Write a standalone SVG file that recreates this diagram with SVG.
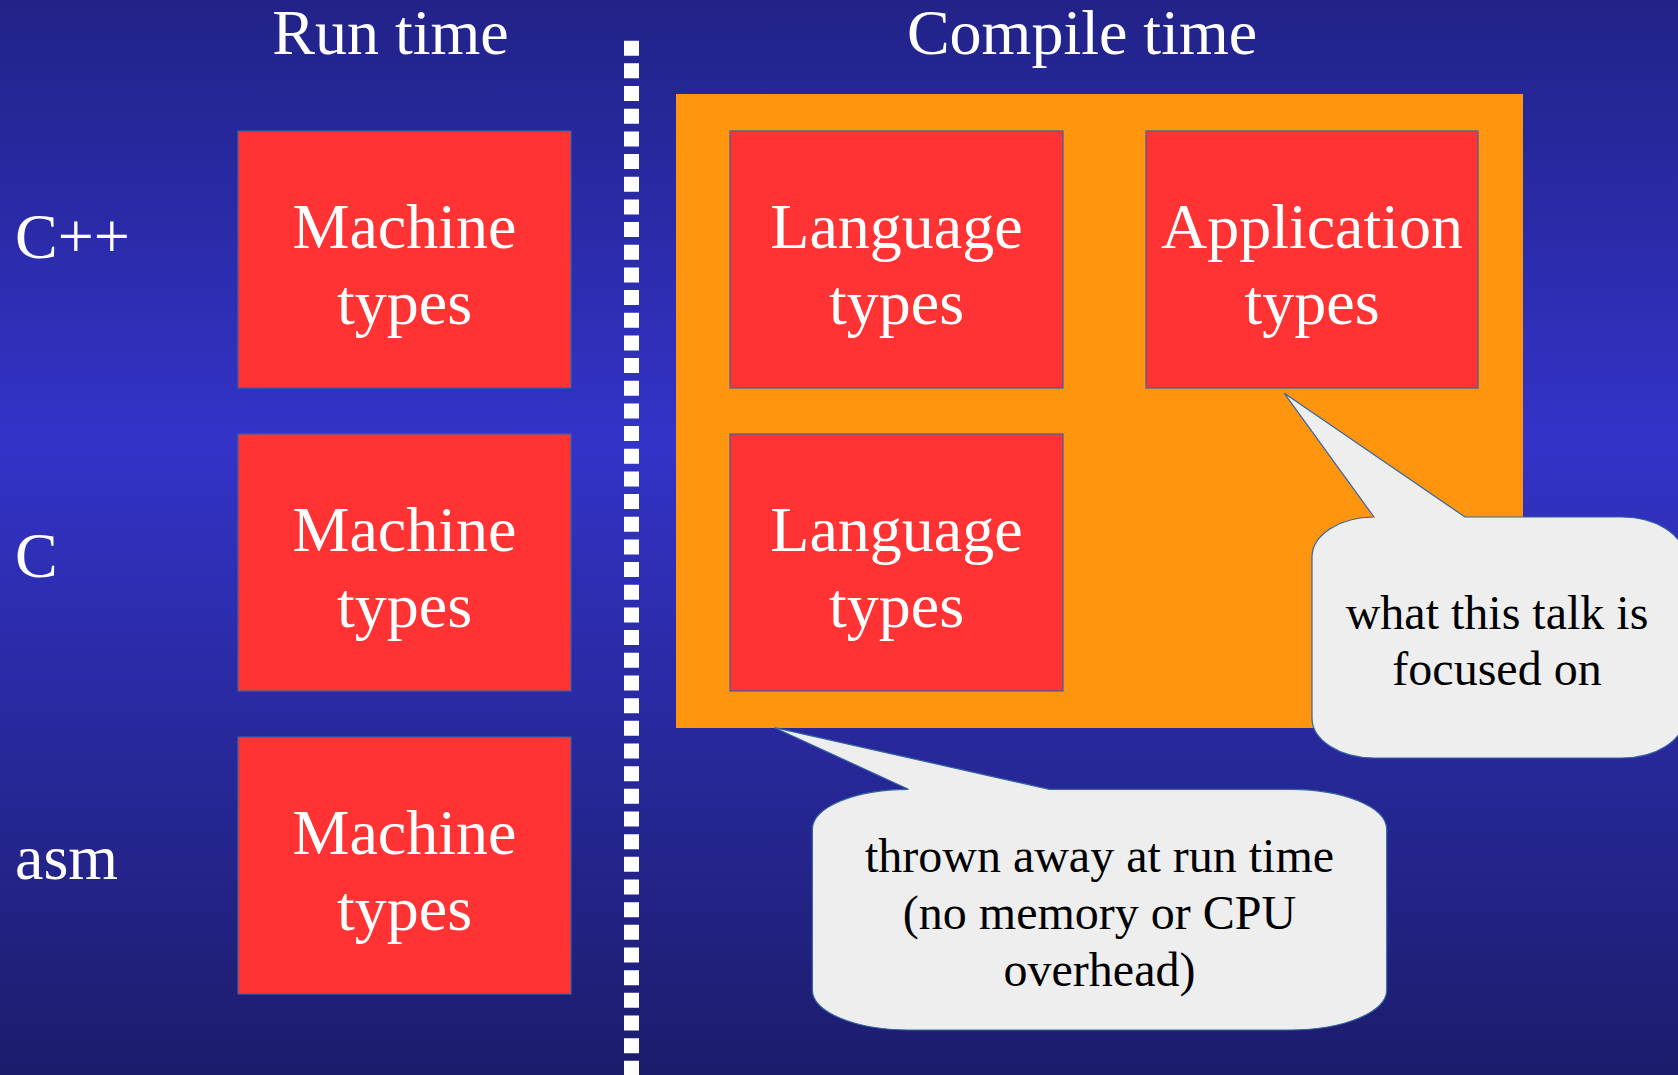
<svg xmlns="http://www.w3.org/2000/svg" width="1678" height="1075" viewBox="0 0 1678 1075">
  <defs>
    <linearGradient id="bg" x1="0" y1="0" x2="0" y2="1">
      <stop offset="0" stop-color="#222288"/>
      <stop offset="0.41" stop-color="#3333c8"/>
      <stop offset="1" stop-color="#1c1c6c"/>
    </linearGradient>
  </defs>
  <style>
    .box { fill: #ff3333; stroke: #3465a4; stroke-width: 1.2; }
    .wt { font-family: "Liberation Serif", "Times New Roman", serif; font-size: 64px; fill: #ffffff; }
    .mid { text-anchor: middle; }
    .ct { font-family: "Liberation Serif", "Times New Roman", serif; font-size: 48px; fill: #000000; text-anchor: middle; }
    .callout { fill: #eeeeee; stroke: #3465a4; stroke-width: 1.2; }
  </style>

  <rect x="0" y="0" width="1678" height="1075" fill="url(#bg)"/>

  <g id="titles">
    <text class="wt mid" x="390.5" y="54">Run time</text>
    <text class="wt mid" x="1082" y="54">Compile time</text>
  </g>

  <g id="row-labels">
    <text class="wt" x="15" y="258">C++</text>
    <text class="wt" x="15" y="577">C</text>
    <text class="wt" x="15" y="879">asm</text>
  </g>

  <g id="divider">
    <line x1="631.5" y1="40.7" x2="631.5" y2="1075" stroke="#ffffff" stroke-width="15" stroke-dasharray="15 7.67"/>
  </g>

  <g id="compile-area">
    <rect x="676" y="94" width="847" height="634" fill="#ff950e"/>
  </g>

  <g id="machine-cpp">
    <rect class="box" x="238" y="131" width="333" height="257"/>
    <text class="wt mid" x="404.5" y="247.5">Machine</text>
    <text class="wt mid" x="404.5" y="324">types</text>
  </g>
  <g id="machine-c">
    <rect class="box" x="238" y="434" width="333" height="257"/>
    <text class="wt mid" x="404.5" y="550.5">Machine</text>
    <text class="wt mid" x="404.5" y="627">types</text>
  </g>
  <g id="machine-asm">
    <rect class="box" x="238" y="737" width="333" height="257"/>
    <text class="wt mid" x="404.5" y="853.5">Machine</text>
    <text class="wt mid" x="404.5" y="930">types</text>
  </g>

  <g id="language-cpp">
    <rect class="box" x="730" y="131" width="333" height="257"/>
    <text class="wt mid" x="896.5" y="247.5">Language</text>
    <text class="wt mid" x="896.5" y="324">types</text>
  </g>
  <g id="application-cpp">
    <rect class="box" x="1146" y="131" width="332" height="257"/>
    <text class="wt mid" x="1312" y="247.5">Application</text>
    <text class="wt mid" x="1312" y="324">types</text>
  </g>
  <g id="language-c">
    <rect class="box" x="730" y="434" width="333" height="257"/>
    <text class="wt mid" x="896.5" y="550.5">Language</text>
    <text class="wt mid" x="896.5" y="627">types</text>
  </g>

  <g id="callout-focus">
    <path class="callout" d="M 1374,517 L 1284.3,393.3 L 1465,517 L 1622,517 A 62 40 0 0 1 1684,557 L 1684,718 A 62 40 0 0 1 1622,758 L 1374,758 A 62 40 0 0 1 1312,718 L 1312,557 A 62 40 0 0 1 1374,517 Z"/>
    <text class="ct" x="1497" y="628.5">what this talk is</text>
    <text class="ct" x="1497" y="685">focused on</text>
  </g>

  <g id="callout-thrown">
    <path class="callout" d="M 908.4,789.3 L 774.7,727.7 L 1049.3,789.3 L 1290.7,789.3 A 96 40 0 0 1 1386.7,829.3 L 1386.7,990 A 96 40 0 0 1 1290.7,1030 L 908.4,1030 A 96 40 0 0 1 812.4,990 L 812.4,829.3 A 96 40 0 0 1 908.4,789.3 Z"/>
    <text class="ct" x="1099.5" y="872">thrown away at run time</text>
    <text class="ct" x="1099.5" y="929">(no memory or CPU</text>
    <text class="ct" x="1099.5" y="986">overhead)</text>
  </g>

  <g id="connectors"></g>
</svg>
